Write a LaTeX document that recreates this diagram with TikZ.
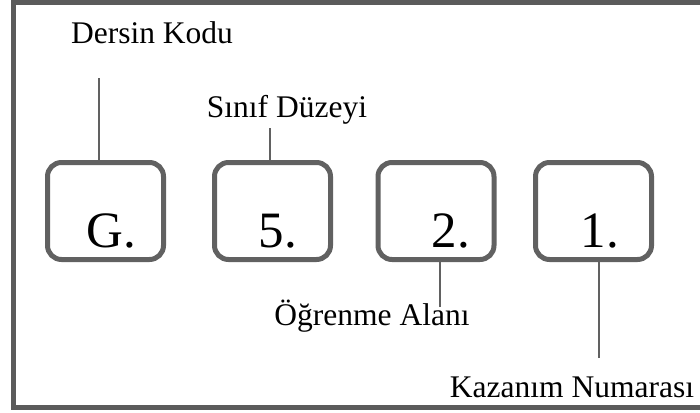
\documentclass[tikz,border=0pt]{standalone}
\usepackage{fontspec}
\setmainfont{Liberation Serif}
\usetikzlibrary{positioning}
\definecolor{framegray}{HTML}{5B5B5B}
\definecolor{boxgray}{HTML}{616161}
\tikzset{
  codebox/.style={draw=boxgray, line width=5pt, rounded corners=14pt, minimum width=116pt, minimum height=97pt},
  digit/.style={anchor=base, font=\fontsize{51}{51}\selectfont},
  caption/.style={anchor=base, font=\fontsize{31.5}{32}\selectfont},
  lead/.style={draw=boxgray, line width=1.6pt}
}
\begin{document}
\begin{tikzpicture}[x=1pt,y=-1pt]
     \useasboundingbox (0,0) rectangle (700,412);
     \clip (0,0) rectangle (700,412);
     \draw[framegray, line width=5pt] (13.5,2.5) rectangle (720,407.5);
     % the four code boxes
     \node[codebox] (kod) at (105.5,211) {};
     \node[codebox] (sinif) at (272.5,211) {};
     \node[codebox] (alan) at (436,211) {};
     \node[codebox] (kazanim) at (593.5,211) {};
     \node[digit] (g) at (111,247) {G.};
     \node[digit] (five) at (278,247) {5.};
     \node[digit] (two) at (451,247) {2.};
     \node[digit] (one) at (600,247) {1.};
     % labels
     \node[caption] (kodu) at (152,44) {Dersin Kodu};
     \node[caption] (duzey) at (287,117) {Sınıf Düzeyi};
     \node[caption] (ogrenme) at (372,325) {Öğrenme Alanı};
     \node[caption] (numara) at (572,397) {Kazanım Numarası};
     \coordinate (kodu end) at (99,78);
     \coordinate (duzey end) at (270,128);
     \coordinate (ogrenme end) at (440,307);
     \coordinate (numara end) at (599,358);
     \draw[lead] (kodu end) -- (kodu end |- kod.north);
     \draw[lead] (duzey end) -- (duzey end |- sinif.north);
     \draw[lead] (ogrenme end) -- (ogrenme end |- alan.south);
     \draw[lead] (numara end) -- (numara end |- kazanim.south);
\end{tikzpicture}
\end{document}
